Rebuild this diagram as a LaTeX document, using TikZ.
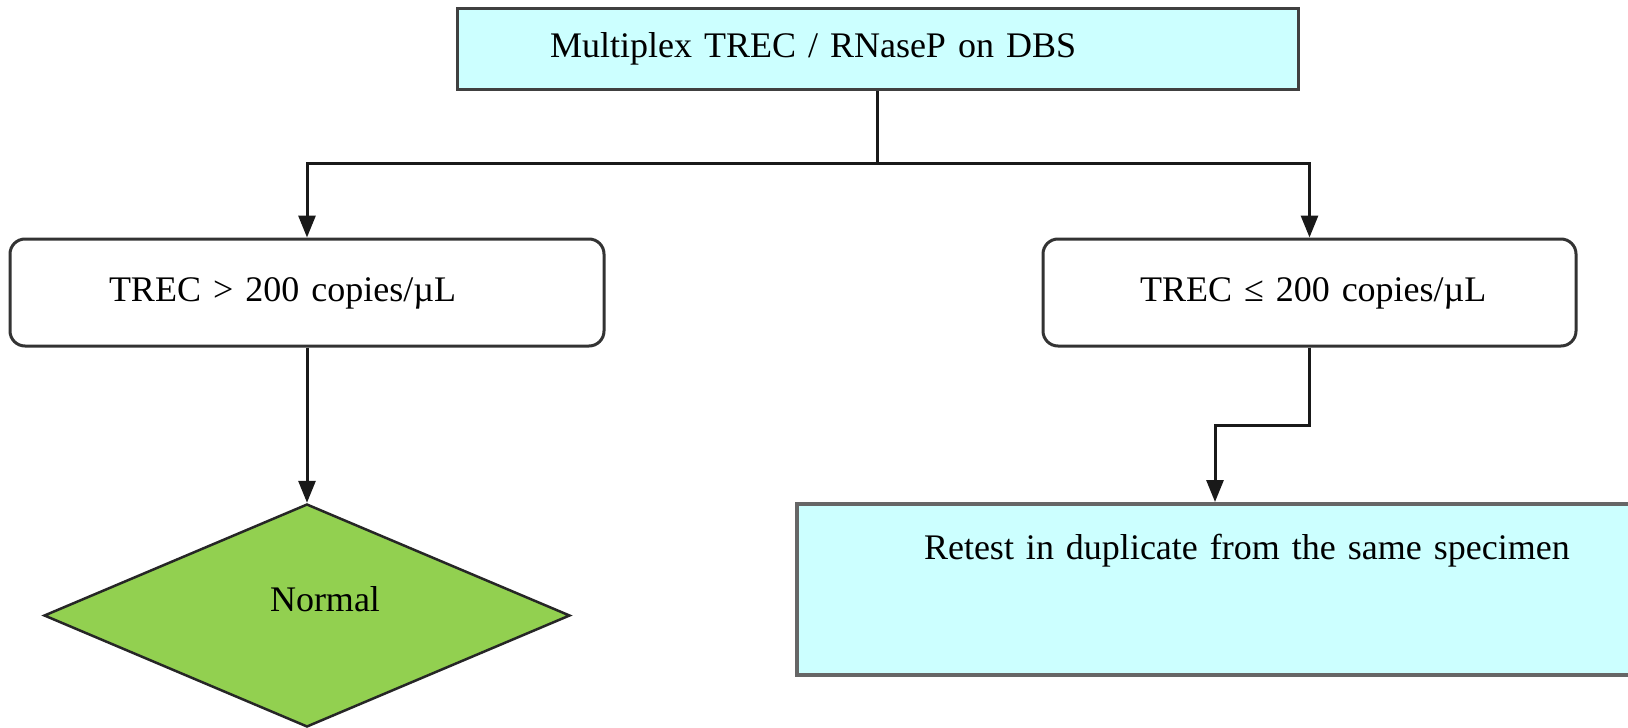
\documentclass[tikz,border=0pt]{standalone}
\usepackage{fontspec}
\setmainfont{Liberation Serif}
\usetikzlibrary{shapes.geometric,arrows.meta}
\definecolor{boxcyan}{HTML}{CCFFFF}
\definecolor{leafgreen}{HTML}{92D050}
\begin{document}
\begin{tikzpicture}[x=1pt,y=-1pt,
  font=\fontsize{36pt}{43pt}\selectfont,
  cyanbox/.style={draw=black!75, line width=3pt, fill=boxcyan, inner xsep=10pt, inner ysep=0pt, align=left},
  roundbox/.style={draw=black!80, line width=3pt, fill=white, rounded corners=15pt, inner xsep=10pt, inner ysep=0pt, align=left},
  leaf/.style={diamond, draw=black!85, line width=2.5pt, fill=leafgreen, inner sep=0pt, aspect=2.36},
  link/.style={draw=black!90, line width=3pt},
  arrowlink/.style={link, -{Triangle[length=22pt,width=17pt]}},
  indent/.style={execute at begin node={\hspace*{#1}}}
]
\clip (0,0) rectangle (1628,728);
\fill[white] (0,0) rectangle (1628,728);

\node[cyanbox, minimum height=81pt, text width=821pt, indent=83pt] (top) at (877.5,48.5) {Multiplex TREC / RNaseP on DBS};

\node[roundbox, text width=574pt, text height=62pt, text depth=45pt, indent=89pt] (low) at (307,292.5) {TREC > 200 copies/µL};

\node[roundbox, text width=513pt, text height=62pt, text depth=45pt, indent=87pt] (high) at (1309.5,292.5) {TREC ≤ 200 copies/µL};

\node[leaf, minimum width=526pt, minimum height=223pt, text height=25pt, text depth=34pt] (normal) at (307,615.5) {\hspace*{36pt}Normal};

\node[cyanbox, draw=black!60, line width=4pt, text width=816pt, text height=55pt, text depth=116pt, indent=117pt] (retest) at (1215,589.5) {Retest in duplicate from the same specimen};

\coordinate (split) at (877.5,163);
\draw[link] (top.south) -- (split);
\draw[arrowlink] (split) -| (low.north);
\draw[arrowlink] (split) -| (high.north);
\draw[arrowlink] (low.south) -- (normal.north);
\draw[arrowlink] (high.south) -- ++(0,78) -| (retest.north);
\end{tikzpicture}
\end{document}
